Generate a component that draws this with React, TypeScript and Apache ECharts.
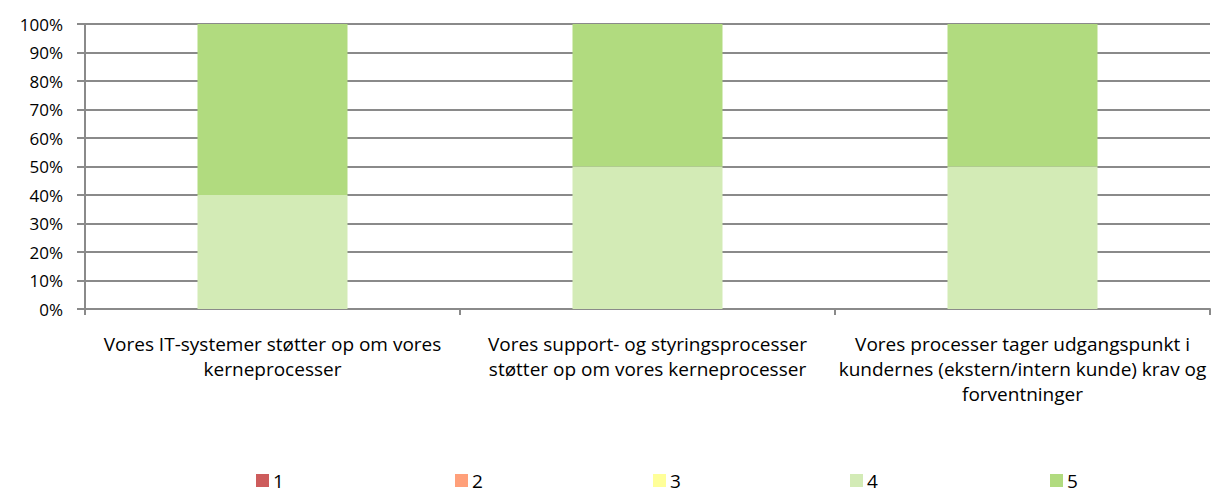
import React, { useEffect, useRef } from "react";
import * as echarts from "echarts";

const categories = [
  "Vores IT-systemer støtter op om vores\nkerneprocesser",
  "Vores support- og styringsprocesser\nstøtter op om vores kerneprocesser",
  "Vores processer tager udgangspunkt i\nkundernes (ekstern/intern kunde) krav og\nforventninger",
];
const seriesNames = ["1", "2", "3", "4", "5"];
const values1 = [0, 0, 0];
const values2 = [0, 0, 0];
const values3 = [0, 0, 0];
const values4 = [40, 50, 50];
const values5 = [60, 50, 50];
const colors = ["#cd5c5c", "#ffa07a", "#ffff99", "#d3ebb6", "#b1db7f"];
const legendLefts = [256, 455, 653, 850, 1050];

const FONT = "'Open Sans', 'Liberation Sans', sans-serif";
const GRID_COLOR = "#8a8a8a";

export default function App() {
  const ref = useRef<HTMLDivElement>(null);
  useEffect(() => {
    if (!ref.current) return;
    const chart = echarts.init(ref.current, undefined, { renderer: "svg" });
    const allValues = [values1, values2, values3, values4, values5];
    chart.setOption({
      animation: false,
      textStyle: { fontFamily: FONT },
      grid: { left: 85, right: 1, top: 24, bottom: 184, containLabel: false },
      legend: seriesNames.map((n, i) => ({
        data: [n],
        left: legendLefts[i],
        top: 471,
        padding: 0,
        itemWidth: 13,
        itemHeight: 13,
        itemGap: 0,
        icon: "rect",
        textStyle: { fontSize: 19, lineHeight: 19, color: "#000", fontFamily: FONT, padding: [0, 0, 0, -1] },
      })),
      xAxis: {
        type: "category",
        data: categories,
        axisLine: { lineStyle: { color: GRID_COLOR, width: 2 } },
        axisTick: { show: true, length: 6, alignWithLabel: false, lineStyle: { color: GRID_COLOR, width: 2 } },
        axisLabel: {
          color: "#000",
          fontSize: 19,
          lineHeight: 25,
          margin: 22,
          fontFamily: FONT,
          interval: 0,
        },
        splitLine: { show: false },
      },
      yAxis: {
        type: "value",
        min: 0,
        max: 100,
        interval: 10,
        axisLine: { show: true, lineStyle: { color: GRID_COLOR, width: 2 } },
        axisTick: { show: true, length: 8, lineStyle: { color: GRID_COLOR, width: 2 } },
        axisLabel: {
          color: "#000",
          fontSize: 17,
          margin: 22,
          fontFamily: FONT,
          formatter: (v: number) => `${v}%`,
        },
        splitLine: { show: true, lineStyle: { color: GRID_COLOR, width: 2 } },
      },
      series: seriesNames.map((n, i) => ({
        name: n,
        type: "bar",
        stack: "total",
        barWidth: "40%",
        data: allValues[i],
        itemStyle: { color: colors[i] },
      })),
    });
    return () => chart.dispose();
  }, []);
  return <div ref={ref} style={{ width: 1211, height: 493, position: "absolute", left: 0, top: 0 }} />;
}
